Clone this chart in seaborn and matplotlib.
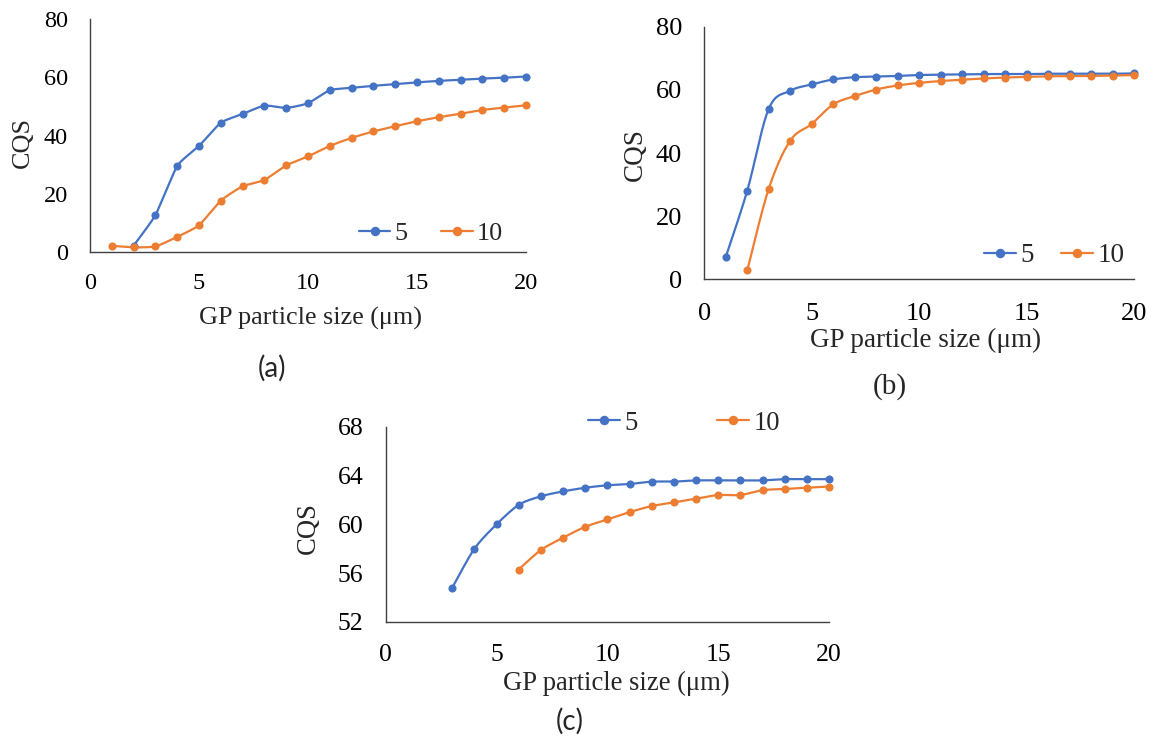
import numpy as np
import pandas as pd
import matplotlib
matplotlib.use("Agg")
import matplotlib.pyplot as plt
import seaborn as sns
from matplotlib.lines import Line2D

# ---- data: GP particle size (µm) vs CQS for series "5" and "10" ----
size_a_5 = list(range(2, 21))
cqs_a_5 = [2.1, 12.6, 29.5, 36.4, 44.4, 47.4, 50.3, 49.5, 51.1, 55.6,
           56.4, 57.1, 57.7, 58.3, 58.8, 59.2, 59.6, 59.9, 60.3]
size_a_10 = list(range(1, 21))
cqs_a_10 = [2.0, 1.5, 1.8, 5.1, 9.1, 17.6, 22.5, 24.7, 29.7, 32.8,
            36.4, 39.2, 41.4, 43.2, 44.9, 46.3, 47.5, 48.8, 49.6, 50.4]

size_b_5 = list(range(1, 21))
cqs_b_5 = [7.1, 28.1, 54.0, 59.7, 61.7, 63.3, 64.0, 64.2, 64.4, 64.7,
           64.8, 64.9, 65.0, 65.0, 65.0, 65.1, 65.1, 65.1, 65.1, 65.2]
size_b_10 = list(range(2, 21))
cqs_b_10 = [2.8, 28.7, 43.9, 49.2, 55.4, 58.0, 60.1, 61.4, 62.2, 62.8,
            63.2, 63.6, 63.9, 64.1, 64.3, 64.3, 64.4, 64.5, 64.7]

size_c_5 = list(range(3, 21))
cqs_c_5 = [54.8, 58.0, 60.0, 61.6, 62.3, 62.7, 63.0, 63.2, 63.3, 63.5,
           63.5, 63.6, 63.6, 63.6, 63.6, 63.7, 63.7, 63.7]
size_c_10 = list(range(6, 21))
cqs_c_10 = [56.3, 57.9, 58.9, 59.8, 60.4, 61.0, 61.5, 61.8, 62.1, 62.4,
            62.4, 62.8, 62.9, 63.0, 63.1]

series_labels = ["5", "10"]
x_ticks = [0, 5, 10, 15, 20]
y_ticks_ab = [0, 20, 40, 60, 80]
y_ticks_c = [52, 56, 60, 64, 68]

BLUE = "#4472C4"
ORANGE = "#ED7D31"
SPINE = "#404040"
W, H = 1157, 737

sns.set_theme(style="white")
plt.rcParams["font.family"] = ["Liberation Serif", "DejaVu Serif"]


def smooth(x, y, tension=1.0, n=20):
    """Cubic Bezier (Catmull-Rom style) curve through the points, as a smoothed line."""
    p = np.column_stack([np.asarray(x, float), np.asarray(y, float)])
    ext = np.vstack([p[:1], p, p[-1:]])
    t = np.linspace(0, 1, n)[:, None]
    k = tension / 6.0
    out = []
    for i in range(1, len(ext) - 2):
        p0, p1, p2, p3 = ext[i - 1], ext[i], ext[i + 1], ext[i + 2]
        c1 = p1 + (p2 - p0) * k
        c2 = p2 - (p3 - p1) * k
        seg = ((1 - t) ** 3) * p1 + 3 * ((1 - t) ** 2) * t * c1 + 3 * (1 - t) * t ** 2 * c2 + t ** 3 * p2
        out.append(seg if i == 1 else seg[1:])
    pts = np.vstack(out)
    return pd.DataFrame({"size": pts[:, 0], "cqs": pts[:, 1]})


def px(x, y):
    return x / W, 1 - y / H


fig = plt.figure(figsize=(W / 100, H / 100), dpi=100)


def panel(box, series, yticks, fs, title_fs, pads, tension, ylabel_xy, xlabel_xy,
          tag_xy, tag_font, legend_xy, colspace):
    l, t, r, b = box
    ax = fig.add_axes([l / W, 1 - b / H, (r - l) / W, (b - t) / H])
    for (xs, ys), col in zip(series, [BLUE, ORANGE]):
        sns.lineplot(data=smooth(xs, ys, tension), x="size", y="cqs", ax=ax, color=col,
                     lw=1.6, sort=False, estimator=None, legend=False, clip_on=False)
        sns.scatterplot(x=xs, y=ys, ax=ax, color=col, s=34, linewidth=0,
                        legend=False, clip_on=False, zorder=3)
    ax.set_xlim(0, 20)
    ax.set_ylim(yticks[0], yticks[-1])
    ax.set_xticks(x_ticks)
    ax.set_yticks(yticks)
    ax.set_xlabel("")
    ax.set_ylabel("")
    for s in ["top", "right"]:
        ax.spines[s].set_visible(False)
    for s in ["left", "bottom"]:
        ax.spines[s].set_color(SPINE)
        ax.spines[s].set_linewidth(1.0)
    ax.tick_params(axis="x", length=0, pad=pads[0], labelsize=fs, colors="black")
    ax.tick_params(axis="y", length=0, pad=pads[1], labelsize=fs, colors="black")
    ax.set_facecolor("none")

    fig.text(*px(*ylabel_xy), "CQS", rotation=90, ha="center", va="center", fontsize=title_fs)
    fig.text(*px(*xlabel_xy), "GP particle size (μm)", ha="center", va="center",
             fontsize=title_fs)
    fig.text(*px(*tag_xy), tag_font[0], ha="center", va="center", fontsize=tag_font[1],
             family=tag_font[2])

    handles = [Line2D([], [], color=c, lw=1.6, marker="o", markersize=5.8)
               for c in [BLUE, ORANGE]]
    fig.legend(handles, series_labels, loc="center", bbox_to_anchor=px(*legend_xy),
               ncol=2, frameon=False, fontsize=title_fs, handlelength=1.2,
               handletextpad=0.15, columnspacing=colspace, borderpad=0)
    return ax


panel((90, 19.3, 526, 251.7),
      [(size_a_5, cqs_a_5), (size_a_10, cqs_a_10)], y_ticks_ab, 17.5, 18.8, (15, 16), 0.55,
      (23, 143), (310, 318), (272, 368), ("(a)", 20, ["Lato", "DejaVu Sans"]),
      (431, 233), 1.3)

panel((704.3, 26.7, 1134, 279.3),
      [(size_b_5, cqs_b_5), (size_b_10, cqs_b_10)], y_ticks_ab, 19, 19.5, (17, 16), 1.0,
      (635, 155), (926, 340), (890, 387), ("(b)", 21, ["Liberation Serif", "DejaVu Serif"]),
      (1054, 256), 1.0)

panel((385.7, 426.7, 829, 622),
      [(size_c_5, cqs_c_5), (size_c_10, cqs_c_10)], y_ticks_c, 18.5, 19.2, (16, 16), 0.8,
      (308, 528), (616, 683), (570, 721), ("(c)", 20, ["Lato", "DejaVu Sans"]),
      (684, 423), 3.0)

fig.savefig("out.png", dpi=100, facecolor="white")
